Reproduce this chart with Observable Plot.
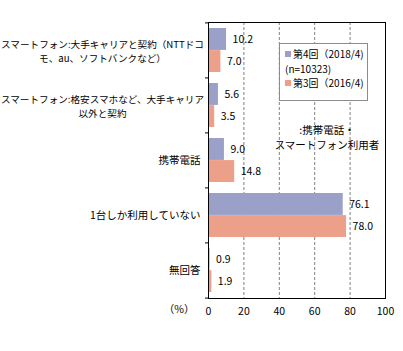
<!DOCTYPE html>
<html><head><meta charset="utf-8">
<script src="https://cdn.jsdelivr.net/npm/d3@7"></script>
<script src="https://cdn.jsdelivr.net/npm/@observablehq/plot@0.6"></script>
<style>
body{margin:0;background:#fff;font-family:"Noto Sans CJK JP",sans-serif;}
#wrap{position:relative;width:403px;height:351px;}
#legend{position:absolute;left:279px;top:43px;width:89px;height:58px;border:1px solid #8c8c8c;background:#fff;font-size:10px;line-height:14.5px;padding:3px 0 0 5px;box-sizing:border-box;color:#000;white-space:nowrap;}
.sw{display:inline-block;width:6px;height:6px;margin-right:2px;vertical-align:1px;}
#note{position:absolute;left:272px;top:122px;width:110px;text-align:center;font-size:10.5px;line-height:15px;white-space:nowrap;}
</style></head>
<body><div id="wrap"><div id="chart"></div>
<div id="legend"><div><span class="sw" style="background:#9aa0c8"></span>第4回（2018/4)</div><div>(n=10323)</div><div><span class="sw" style="background:#eca08a"></span>第3回（2016/4)</div></div>
<div id="note">:携帯電話・<br>スマートフォン利用者</div>
</div>
<script>
const categories = [
  "スマートフォン:大手キャリアと契約（NTTドコ\nモ、au、ソフトバンクなど）",
  "スマートフォン:格安スマホなど、大手キャリア\n以外と契約",
  "携帯電話",
  "1台しか利用していない",
  "無回答"
];
const series4 = [10.2, 5.6, 9.0, 76.1, 0.9]; // 第4回（2018/4）
const series3 = [7.0, 3.5, 14.8, 78.0, 1.9]; // 第3回（2016/4）
const xTicks = [0, 20, 40, 60, 80, 100];

const d4 = categories.map((c, i) => ({cat: c, v: series4[i]}));
const d3_ = categories.map((c, i) => ({cat: c, v: series3[i]}));
const multi = categories.filter(c => c.includes("\n"));
const single = categories.filter(c => !c.includes("\n"));

const step = (298 - 22) / 5;
const half = step * 0.8 / 2;

const chart = Plot.plot({
  width: 403, height: 351,
  marginLeft: 208, marginRight: 18, marginTop: 22, marginBottom: 53,
  style: {fontFamily: '"Noto Sans CJK JP", sans-serif', fontSize: "10.5px", color: "#000"},
  x: {domain: [0, 100], ticks: xTicks},
  y: {domain: categories, paddingInner: 0.2, paddingOuter: 0.1, axis: null},
  marks: [
    Plot.gridX(xTicks.filter(t => t > 0 && t < 100), {stroke: "#808080", strokeOpacity: 1, strokeDasharray: "3,2"}),
    Plot.barX(d4, {y: "cat", x: "v", fill: "#9aa0c8", insetBottom: half}),
    Plot.barX(d3_, {y: "cat", x: "v", fill: "#eca08a", insetTop: half}),
    Plot.text(d4, {y: "cat", x: "v", text: d => d.v.toFixed(1), textAnchor: "start", dx: 6, dy: -half / 2, fontSize: 10.5}),
    Plot.text(d3_, {y: "cat", x: "v", text: d => d.v.toFixed(1), textAnchor: "start", dx: 6, dy: half / 2, fontSize: 10.5}),
    Plot.ruleY(categories, {y: d => d, x1: 0, x2: 0, insetLeft: -3, dy: -step / 2, stroke: "#000"}),
    Plot.ruleY(categories.slice(-1), {y: d => d, x1: 0, x2: 0, insetLeft: -3, dy: step / 2, stroke: "#000"}),
    Plot.text(single, {y: d => d, frameAnchor: "left", textAnchor: "end", dx: -8}),
    Plot.text(multi, {y: d => d, frameAnchor: "left", textAnchor: "middle", dx: -106, lineHeight: 1.4, fontSize: 9.6}),
    Plot.axisX({ticks: xTicks, tickSize: 0, tickPadding: 9, label: null, fontSize: 10.5}),
    Plot.text(["（%）"], {frameAnchor: "bottom-left", textAnchor: "end", dx: -14, dy: 14}),
    Plot.frame({stroke: "#000", strokeWidth: 1})
  ]
});
document.getElementById("chart").appendChild(chart);
</script></body></html>
